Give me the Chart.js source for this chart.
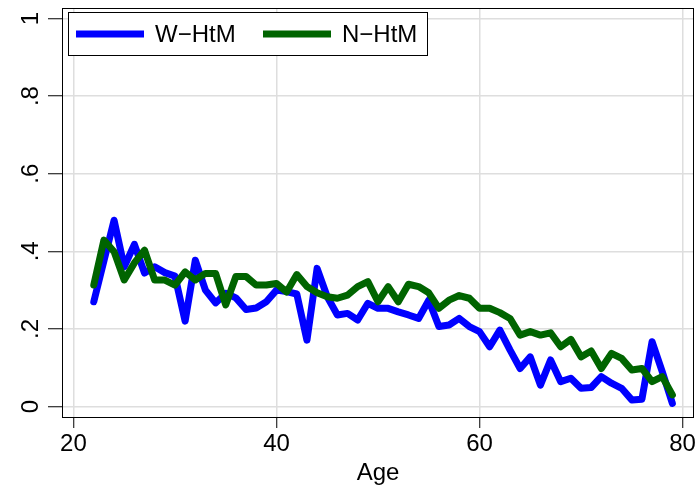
<!DOCTYPE html>
<html>
<head>
<meta charset="utf-8">
<script src="https://cdn.jsdelivr.net/npm/chart.js@4/dist/chart.umd.min.js"></script>
<style>
  html, body { margin: 0; padding: 0; background: #fff; }
  #wrap { width: 698px; height: 488px; }
</style>
</head>
<body>
<div id="wrap"><canvas id="c" width="698" height="488"></canvas></div>
<script>
// Share of households by age
const ages = [22,23,24,25,26,27,28,29,30,31,32,33,34,35,36,37,38,39,40,41,42,43,44,45,46,47,48,49,50,
              51,52,53,54,55,56,57,58,59,60,61,62,63,64,65,66,67,68,69,70,71,72,73,74,75,76,77,78,79];
const wealthyHtM = [0.270,0.375,0.480,0.360,0.418,0.344,0.360,0.345,0.336,0.220,0.377,0.300,0.267,0.292,0.280,
                    0.250,0.254,0.270,0.300,0.296,0.290,0.171,0.356,0.283,0.236,0.240,0.223,0.266,0.253,
                    0.253,0.244,0.236,0.227,0.274,0.206,0.210,0.227,0.206,0.193,0.154,0.197,0.146,0.098,
                    0.128,0.055,0.120,0.064,0.073,0.047,0.049,0.077,0.060,0.047,0.017,0.019,0.167,0.090,0.008];
const poorHtM = [0.313,0.429,0.399,0.326,0.370,0.403,0.326,0.326,0.313,0.347,0.326,0.343,0.343,0.262,0.335,
                 0.335,0.313,0.313,0.317,0.295,0.340,0.309,0.293,0.283,0.279,0.287,0.309,0.322,0.270,
                 0.309,0.270,0.315,0.309,0.293,0.253,0.274,0.286,0.279,0.253,0.253,0.242,0.227,0.184,
                 0.193,0.184,0.190,0.154,0.173,0.128,0.143,0.098,0.137,0.124,0.094,0.098,0.064,0.077,0.030];
const seriesNames = ['W\u2212HtM', 'N\u2212HtM'];
const xTicks = [20, 40, 60, 80];
const yTicks = [0, 0.2, 0.4, 0.6, 0.8, 1];
const yTickLabels = ['0', '.2', '.4', '.6', '.8', '1'];

const BLUE = '#0000ff';
const GREEN = '#006400';
const FONT = '"Liberation Sans", Arial, sans-serif';

const toPoints = vals => ages.map((a, i) => ({ x: a, y: vals[i] }));

// Rotated y labels, outer frame and boxed legend
const decor = {
  id: 'decor',
  afterDraw(chart) {
    const ctx = chart.ctx;
    const a = chart.chartArea;
    const ys = chart.scales.y;
    ctx.save();
    // frame
    ctx.strokeStyle = '#000';
    ctx.lineWidth = 1;
    ctx.strokeRect(Math.round(a.left) + 0.5, Math.round(a.top) + 0.5,
                   Math.round(a.right - a.left) - 1, Math.round(a.bottom - a.top) - 1);
    // y tick labels, reading upward
    ctx.fillStyle = '#000';
    ctx.font = '24px ' + FONT;
    ctx.textAlign = 'center';
    ctx.textBaseline = 'middle';
    yTicks.forEach((v, i) => {
      const py = ys.getPixelForValue(v);
      ctx.save();
      ctx.translate(30, py);
      ctx.rotate(-Math.PI / 2);
      ctx.fillText(yTickLabels[i], 0, 1);
      ctx.restore();
    });
    // legend
    const bx = 68, by = 12, bw = 359, bh = 43;
    ctx.fillStyle = '#fff';
    ctx.fillRect(bx, by, bw, bh);
    ctx.strokeStyle = '#000';
    ctx.strokeRect(bx + 0.5, by + 0.5, bw, bh);
    const cy = by + bh / 2 + 0.5;
    const items = [
      { color: BLUE, x0: 76, x1: 144, tx: 155, label: seriesNames[0] },
      { color: GREEN, x0: 263, x1: 331, tx: 342, label: seriesNames[1] }
    ];
    ctx.lineWidth = 7;
    ctx.lineCap = 'butt';
    ctx.font = '24px ' + FONT;
    ctx.textAlign = 'left';
    ctx.textBaseline = 'middle';
    items.forEach(it => {
      ctx.strokeStyle = it.color;
      ctx.beginPath();
      ctx.moveTo(it.x0, cy);
      ctx.lineTo(it.x1, cy);
      ctx.stroke();
      ctx.fillStyle = '#000';
      ctx.fillText(it.label, it.tx, cy + 1);
    });
    ctx.restore();
  }
};

new Chart(document.getElementById('c'), {
  type: 'line',
  data: {
    datasets: [
      { label: seriesNames[0], data: toPoints(wealthyHtM), borderColor: BLUE, order: 2 },
      { label: seriesNames[1], data: toPoints(poorHtM), borderColor: GREEN, order: 1 }
    ]
  },
  options: {
    responsive: false,
    animation: false,
    devicePixelRatio: 1,
    layout: { padding: { top: 8, right: 4, left: 0, bottom: 0 } },
    elements: {
      line: { borderWidth: 7, tension: 0, borderJoinStyle: 'round', borderCapStyle: 'round', fill: false },
      point: { radius: 0, hoverRadius: 0 }
    },
    plugins: { legend: { display: false }, tooltip: { enabled: false } },
    scales: {
      x: {
        type: 'linear',
        min: 18.87,
        max: 81.13,
        afterBuildTicks: s => { s.ticks = xTicks.map(v => ({ value: v })); },
        afterFit: s => { s.height = 70; },
        grid: { color: '#dedede', lineWidth: 1.5, tickColor: '#000', tickLength: 10, tickWidth: 1 },
        border: { display: false },
        ticks: { color: '#000', font: { family: FONT, size: 24 }, padding: 2, maxRotation: 0 },
        title: { display: true, text: 'Age', color: '#000', font: { family: FONT, size: 24 }, padding: { top: 0, bottom: 0 } }
      },
      y: {
        type: 'linear',
        min: -0.0296,
        max: 1.027,
        afterBuildTicks: s => { s.ticks = yTicks.map(v => ({ value: v })); },
        afterFit: s => { s.width = 62; },
        grid: { color: '#dedede', lineWidth: 1.5, tickColor: '#000', tickLength: 14, tickWidth: 1 },
        border: { display: false },
        ticks: { display: false }
      }
    }
  },
  plugins: [decor]
});
</script>
</body>
</html>
